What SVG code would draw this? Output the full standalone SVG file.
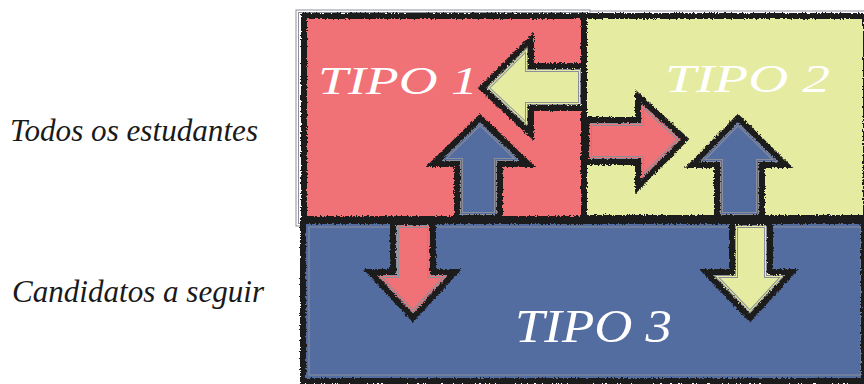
<svg xmlns="http://www.w3.org/2000/svg" xmlns:xlink="http://www.w3.org/1999/xlink" width="864" height="384" viewBox="0 0 864 384">
<style>
.red{fill:#F07176}
.yel{fill:#E5EBA0}
.blu{fill:#546DA1}
.edge{fill:none;stroke:#1c1a1b;stroke-width:6;stroke-linejoin:miter;filter:url(#rough)}
.thin{fill:none;stroke:#8c8f99;stroke-width:1}
.tipo{font-family:"Liberation Serif","DejaVu Serif",serif;font-style:italic;fill:#ffffff}
.lab{font-family:"Liberation Serif","DejaVu Serif",serif;font-style:italic;fill:#1a1a1a;font-size:32px}
</style>
<defs>
<filter id="rough" x="-10%" y="-10%" width="120%" height="120%">
<feTurbulence type="fractalNoise" baseFrequency="0.55" numOctaves="2" seed="4" result="n"/>
<feDisplacementMap in="SourceGraphic" in2="n" scale="4" xChannelSelector="R" yChannelSelector="G"/>
</filter>
<path id="a1" d="M482,88 L531,39 L531,66 L584,66 L584,108 L531,108 L531,134 Z"/>
<path id="a2" d="M480,118 L528,164 L500,164 L500,218 L457,218 L457,164 L433,164 Z"/>
<path id="a3" d="M586,120 L638,120 L638,96 L685,139 L638,187 L638,162 L586,162 Z"/>
<path id="a4" d="M738,118 L786,165 L762,165 L762,218 L717,218 L717,165 L692,165 Z"/>
<path id="a5" d="M393,222 L433,222 L433,272 L455,272 L413,318 L370,272 L393,272 Z"/>
<path id="a6" d="M732,222 L770,222 L770,272 L792,272 L750,318 L706,272 L732,272 Z"/>
<clipPath id="c1"><use xlink:href="#a1"/></clipPath>
<clipPath id="c2"><use xlink:href="#a2"/></clipPath>
<clipPath id="c3"><use xlink:href="#a3"/></clipPath>
<clipPath id="c4"><use xlink:href="#a4"/></clipPath>
<clipPath id="c5"><use xlink:href="#a5"/></clipPath>
<clipPath id="c6"><use xlink:href="#a6"/></clipPath>
</defs>

<g id="label-todos"><text class="lab" x="10" y="141" textLength="248" lengthAdjust="spacingAndGlyphs">Todos os estudantes</text></g>
<g id="label-candidatos"><text class="lab" x="12" y="302" textLength="252" lengthAdjust="spacingAndGlyphs">Candidatos a seguir</text></g>

<g id="frame">
<rect x="296" y="10" width="294" height="216" class="thin" stroke="#aaaaaa"/>
<rect x="298.5" y="12.5" width="289" height="211" class="thin" stroke="#aaaaaa"/>
<line x1="590" y1="11" x2="864" y2="11" class="thin" stroke="#aaaaaa"/>
</g>

<g id="tipo1">
<rect class="red" x="304" y="16" width="280" height="203"/>
<rect class="edge" x="304" y="16" width="280" height="203"/>
<text class="tipo" x="318" y="94" font-size="40" textLength="160" lengthAdjust="spacingAndGlyphs">TIPO 1</text>
</g>
<g id="tipo2">
<rect class="yel" x="584" y="16" width="282" height="202"/>
<rect class="edge" x="584" y="16" width="282" height="202"/>
<text class="tipo" x="665" y="92" font-size="40" textLength="165" lengthAdjust="spacingAndGlyphs">TIPO 2</text>
</g>
<g id="tipo3">
<rect class="blu" x="303" y="221" width="561" height="160"/>
<rect x="309" y="227" width="552" height="148" class="thin"/>
<rect class="edge" x="303" y="221" width="561" height="160"/>
<text class="tipo" x="515" y="342" font-size="46" textLength="157" lengthAdjust="spacingAndGlyphs">TIPO 3</text>
</g>

<g id="connectors">
<g>
<use xlink:href="#a1" class="yel"/>
<use xlink:href="#a1" clip-path="url(#c1)" fill="none" stroke="#8c8f99" stroke-width="12"/>
<use xlink:href="#a1" clip-path="url(#c1)" fill="none" stroke="#E5EBA0" stroke-width="10"/>
<use xlink:href="#a1" clip-path="url(#c1)" fill="none" stroke="#8c8f99" stroke-width="8"/>
<use xlink:href="#a1" clip-path="url(#c1)" fill="none" stroke="#E5EBA0" stroke-width="6"/>
<use xlink:href="#a1" class="edge"/>
</g>
<g>
<use xlink:href="#a2" class="blu"/>
<use xlink:href="#a2" clip-path="url(#c2)" fill="none" stroke="#8c8f99" stroke-width="12"/>
<use xlink:href="#a2" clip-path="url(#c2)" fill="none" stroke="#546DA1" stroke-width="10"/>
<use xlink:href="#a2" clip-path="url(#c2)" fill="none" stroke="#8c8f99" stroke-width="8"/>
<use xlink:href="#a2" clip-path="url(#c2)" fill="none" stroke="#546DA1" stroke-width="6"/>
<use xlink:href="#a2" class="edge"/>
</g>
<g>
<use xlink:href="#a3" class="red"/>
<use xlink:href="#a3" clip-path="url(#c3)" fill="none" stroke="#8c8f99" stroke-width="12"/>
<use xlink:href="#a3" clip-path="url(#c3)" fill="none" stroke="#F07176" stroke-width="10"/>
<use xlink:href="#a3" clip-path="url(#c3)" fill="none" stroke="#8c8f99" stroke-width="8"/>
<use xlink:href="#a3" clip-path="url(#c3)" fill="none" stroke="#F07176" stroke-width="6"/>
<use xlink:href="#a3" class="edge"/>
</g>
<g>
<use xlink:href="#a4" class="blu"/>
<use xlink:href="#a4" clip-path="url(#c4)" fill="none" stroke="#8c8f99" stroke-width="12"/>
<use xlink:href="#a4" clip-path="url(#c4)" fill="none" stroke="#546DA1" stroke-width="10"/>
<use xlink:href="#a4" clip-path="url(#c4)" fill="none" stroke="#8c8f99" stroke-width="8"/>
<use xlink:href="#a4" clip-path="url(#c4)" fill="none" stroke="#546DA1" stroke-width="6"/>
<use xlink:href="#a4" class="edge"/>
</g>
<g>
<use xlink:href="#a5" class="red"/>
<use xlink:href="#a5" clip-path="url(#c5)" fill="none" stroke="#8c8f99" stroke-width="12"/>
<use xlink:href="#a5" clip-path="url(#c5)" fill="none" stroke="#F07176" stroke-width="10"/>
<use xlink:href="#a5" clip-path="url(#c5)" fill="none" stroke="#8c8f99" stroke-width="8"/>
<use xlink:href="#a5" clip-path="url(#c5)" fill="none" stroke="#F07176" stroke-width="6"/>
<use xlink:href="#a5" class="edge"/>
</g>
<g>
<use xlink:href="#a6" class="yel"/>
<use xlink:href="#a6" clip-path="url(#c6)" fill="none" stroke="#8c8f99" stroke-width="12"/>
<use xlink:href="#a6" clip-path="url(#c6)" fill="none" stroke="#E5EBA0" stroke-width="10"/>
<use xlink:href="#a6" clip-path="url(#c6)" fill="none" stroke="#8c8f99" stroke-width="8"/>
<use xlink:href="#a6" clip-path="url(#c6)" fill="none" stroke="#E5EBA0" stroke-width="6"/>
<use xlink:href="#a6" class="edge"/>
</g>
</g>
</svg>
